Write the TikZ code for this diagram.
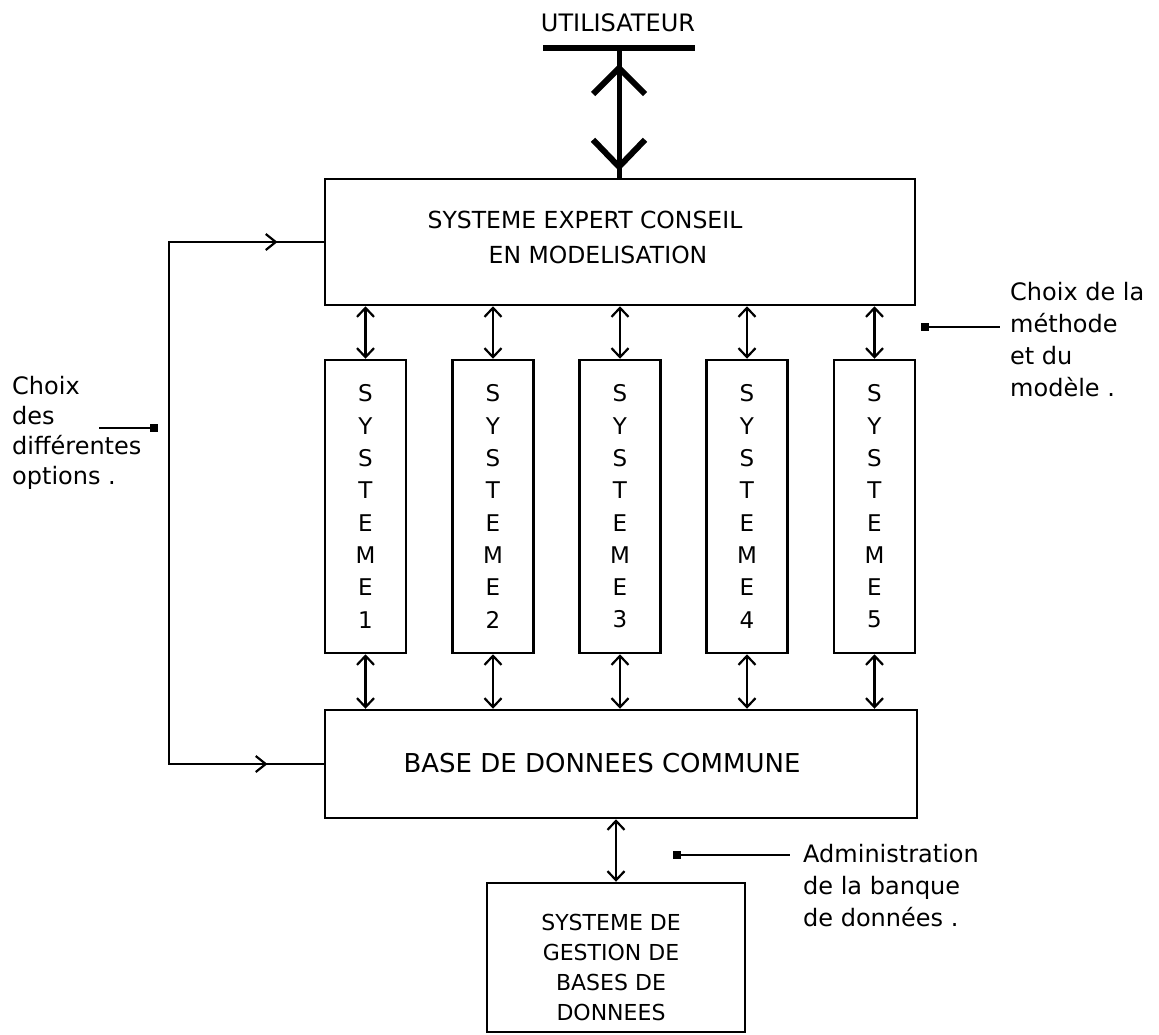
\documentclass[tikz,border=0pt]{standalone}
\usepackage{fontspec}
\setmainfont{DejaVu Sans}
\usetikzlibrary{arrows.meta,calc}
\newcommand\fsz[2]{\fontsize{#1}{#2}\selectfont}
\begin{document}
\begin{tikzpicture}[x=1pt,y=-1pt,
  box/.style={draw, line width=2.5pt, inner sep=0pt},
  dbl/.style={line width=2.2pt, {Straight Barb[length=9pt,width=17pt]}-{Straight Barb[length=9pt,width=17pt]}},
  fbline/.style={line width=2.4pt},
  chev/.style={line width=2.2pt, line join=miter},
  bigchev/.style={line width=6pt, line join=miter, line cap=butt},
  lbl/.style={font=\fsz{24}{31}, inner sep=0pt, align=left, anchor=west},
  dot/.style={fill=black, inner sep=0pt, minimum size=8pt},
  leader/.style={line width=2pt}
]
\useasboundingbox (0,0) rectangle (1159,1034);
\fill[white] (0,0) rectangle (1159,1034);

% user
\node[font=\fsz{24}{28}, inner sep=0pt] (user) at (618,23) {UTILISATEUR};
\node[fill=black, inner sep=0pt, minimum width=152pt, minimum height=6pt] (bar) at (619,48) {};

% main boxes
\node[box, minimum width=590pt, minimum height=126pt] (top) at (620,242) {};
\node[font=\fsz{23.5}{30}, inner sep=0pt] (toptxtA) at (585,220) {SYSTEME EXPERT CONSEIL};
\node[font=\fsz{23.5}{30}, inner sep=0pt] (toptxtB) at (598,255) {EN MODELISATION};

\node[box, minimum width=592pt, minimum height=108pt] (base) at (621,764) {};
\node[font=\fsz{26}{30}, inner sep=0pt] (basetxt) at (602,763) {BASE DE DONNEES COMMUNE};

\node[box, minimum width=258pt, minimum height=149pt] (dbms) at (616,957.5) {};
\node[font=\fsz{22}{30.3}, inner sep=0pt, align=center] (dbmstxt) at (611,967.5) {SYSTEME DE\\GESTION DE\\BASES DE\\DONNEES};

% user connector
\draw[line width=5pt] (bar.center) -- (bar.center |- top.north);
\draw[bigchev] ($(bar.center)+(-26,46)$) -- ($(bar.center)+(0,20)$) -- ($(bar.center)+(26,46)$);
\draw[bigchev] ($(bar.center |- top.north)+(-26,-38)$) -- ($(bar.center |- top.north)+(0,-11)$) -- ($(bar.center |- top.north)+(26,-38)$);

% systems
\foreach \i/\x in {1/365.5,2/493,3/620,4/747,5/874.5} {
  \node[box, minimum width=81pt, minimum height=293pt, align=center, font=\fsz{23}{32.3}] (s\i) at (\x,506.5) {S\\Y\\S\\T\\E\\M\\E\\\i};
  \draw[dbl] (s\i.north) -- (s\i.north |- top.south);
  \draw[dbl] (s\i.south) -- (s\i.south |- base.north);
}

% base to dbms
\draw[dbl] (dbms.north) -- (dbms.north |- base.south);

% feedback loop
\coordinate (fbt) at ($(top.west)+(-155,0)$);
\draw[fbline] (top.west) -- (fbt) |- (base.west);
\draw[chev] ($(top.west)+(-58,-8)$) -- ($(top.west)+(-48,0)$) -- ($(top.west)+(-58,8)$);
\draw[chev] ($(base.west)+(-68,-8)$) -- ($(base.west)+(-58,0)$) -- ($(base.west)+(-68,8)$);

% labels
\node[lbl, font=\fsz{24}{30}] (lopt) at (12,433) {Choix\\des\\différentes\\options .};
\node[dot] (ldot) at (154,428) {};
\coordinate (lend) at (99,428);
\draw[leader] (lend) -- (ldot);

\node[lbl, font=\fsz{24}{32}] (rmeth) at (1010,340) {Choix de la\\méthode\\et du\\modèle .};
\node[dot] (rdot) at (925,327) {};
\coordinate (rend) at (1000,327);
\draw[leader] (rdot) -- (rend);

\node[lbl, font=\fsz{24}{32}] (admin) at (803,886) {Administration\\de la banque\\de données .};
\node[dot] (adot) at (677,855) {};
\coordinate (aend) at (790,855);
\draw[leader] (adot) -- (aend);
\end{tikzpicture}
\end{document}
